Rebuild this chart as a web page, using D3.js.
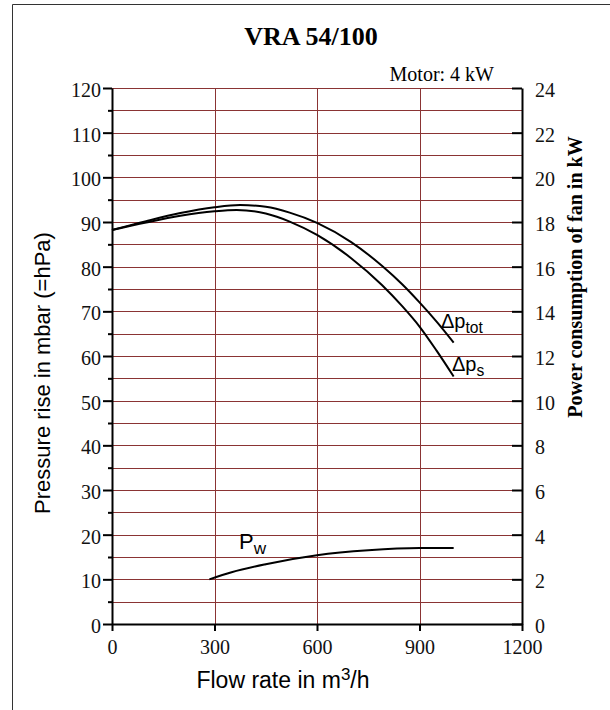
<!DOCTYPE html>
<html><head><meta charset="utf-8">
<script src="https://cdn.jsdelivr.net/npm/d3@7"></script>
<style>body{margin:0;background:#fff}svg{display:block}</style>
</head><body><svg id="c" width="610" height="710"></svg>
<script>
// ---- data ----
const flowTicks = [0, 300, 600, 900, 1200];
const pressureTicks = [0, 10, 20, 30, 40, 50, 60, 70, 80, 90, 100, 110, 120];
const pressureMinor = [5, 15, 25, 35, 45, 55, 65, 75, 85, 95, 105, 115];
const powerTicks = [0, 2, 4, 6, 8, 10, 12, 14, 16, 18, 20, 22, 24];
const gridPressure = [5, 10, 15, 20, 25, 30, 35, 40, 45, 50, 55, 60, 65, 70, 75, 80, 85, 90, 95, 100, 105, 110, 115, 120];
const gridFlow = [300, 600, 900];

const dpTotFlow   = [0, 100, 200, 300, 375, 450, 520, 600, 700, 790, 850, 900, 950, 1000];
const dpTotValues = [88.2, 90.2, 92.0, 93.3, 93.8, 93.4, 92.1, 89.8, 85.5, 80.2, 76.0, 72.0, 67.7, 63.0];
const dpSFlow     = [0, 100, 200, 300, 365, 450, 520, 600, 700, 790, 850, 900, 950, 1000];
const dpSValues   = [88.2, 89.9, 91.4, 92.4, 92.7, 91.9, 90.1, 87.1, 81.9, 75.9, 71.1, 66.6, 61.2, 55.4];
const pwFlow      = [285, 350, 450, 600, 750, 900, 1000];
const pwValues    = [2.0, 2.32, 2.68, 3.08, 3.3, 3.4, 3.4];

// ---- layout ----
const svg = d3.select('#c');
const L = 112, R = 522, T = 88, B = 624;
const x = d3.scaleLinear().domain([0, 1200]).range([L, R]);
const y = d3.scaleLinear().domain([0, 120]).range([B, T]);
const y2 = d3.scaleLinear().domain([0, 24]).range([B, T]);
const serif = "'Liberation Serif','Times New Roman',serif";
const sans = "'Liberation Sans',Arial,sans-serif";
const gridCol = '#8a3434';

svg.append('rect').attr('width', 610).attr('height', 710).attr('fill', '#fff');
// frame
svg.append('path').attr('d', 'M12.5,715 V4.5 H615').attr('fill', 'none').attr('stroke', '#333').attr('stroke-width', 1);

// grid
svg.append('g').selectAll('line').data(gridPressure).join('line')
  .attr('x1', L).attr('x2', R)
  .attr('y1', d => Math.round(y(d)) + 0.5).attr('y2', d => Math.round(y(d)) + 0.5)
  .attr('stroke', gridCol).attr('stroke-width', 1);
svg.append('g').selectAll('line').data(gridFlow).join('line')
  .attr('y1', T).attr('y2', B)
  .attr('x1', d => Math.round(x(d)) + 0.5).attr('x2', d => Math.round(x(d)) + 0.5)
  .attr('stroke', gridCol).attr('stroke-width', 1);

// curves
const line = (xs, ys, sc) => d3.line().x((d, i) => x(xs[i])).y(d => sc(d)).curve(d3.curveMonotoneX)(ys);
svg.append('path').attr('d', line(dpTotFlow, dpTotValues, y)).attr('fill', 'none').attr('stroke', '#000').attr('stroke-width', 2);
svg.append('path').attr('d', line(dpSFlow, dpSValues, y)).attr('fill', 'none').attr('stroke', '#000').attr('stroke-width', 2);
svg.append('path').attr('d', line(pwFlow, pwValues, y2)).attr('fill', 'none').attr('stroke', '#000').attr('stroke-width', 2);

// axes
function styleAxis(g, size) {
  g.select('.domain').attr('stroke', '#000').attr('stroke-width', 2);
  g.selectAll('.tick line').attr('stroke', '#000').attr('stroke-width', 2);
  g.selectAll('.tick text').attr('font-family', serif).attr('font-size', size).attr('fill', '#111');
}
const gl = svg.append('g').attr('transform', `translate(${L},0)`)
  .call(d3.axisLeft(y).tickValues(pressureTicks).tickSize(9).tickSizeOuter(0).tickPadding(2).tickFormat(d3.format('d')));
styleAxis(gl, 20);
gl.selectAll('.tick text').attr('dy', '0.42em');
svg.append('g').attr('transform', `translate(${L},0)`)
  .call(d3.axisLeft(y).tickValues(pressureMinor).tickSize(4).tickSizeOuter(0).tickFormat(''))
  .call(g => { g.select('.domain').remove(); g.selectAll('.tick line').attr('stroke', '#000').attr('stroke-width', 2); });

const gr = svg.append('g').attr('transform', `translate(${R},0)`)
  .call(d3.axisRight(y2).tickValues(powerTicks).tickSize(-10).tickSizeOuter(0).tickPadding(13).tickFormat(d3.format('d')));
styleAxis(gr, 20);
gr.selectAll('.tick text').attr('dy', '0.42em');

const gb = svg.append('g').attr('transform', `translate(0,${B})`)
  .call(d3.axisBottom(x).tickValues(flowTicks).tickSize(7).tickSizeOuter(0).tickPadding(9).tickFormat(d3.format('d')));
styleAxis(gb, 20);

// titles
svg.append('text').attr('x', 311).attr('y', 45).attr('text-anchor', 'middle')
  .attr('font-family', serif).attr('font-weight', 'bold').attr('font-size', 26).text('VRA 54/100');
svg.append('text').attr('x', 494).attr('y', 81).attr('text-anchor', 'end')
  .attr('font-family', serif).attr('font-size', 20).text('Motor: 4 kW');

svg.append('text').attr('transform', 'translate(50,373) rotate(-90)').attr('text-anchor', 'middle')
  .attr('font-family', sans).attr('font-size', 22).text('Pressure rise in mbar (=hPa)');
svg.append('text').attr('transform', 'translate(582,277) rotate(-90)').attr('text-anchor', 'middle')
  .attr('font-family', serif).attr('font-weight', 'bold').attr('font-size', 20).text('Power consumption of fan in kW');

const xt = svg.append('text').attr('x', 283).attr('y', 688).attr('text-anchor', 'middle')
  .attr('font-family', sans).attr('font-size', 23);
xt.append('tspan').text('Flow rate in m');
xt.append('tspan').attr('font-size', 17).attr('dy', -8).text('3');
xt.append('tspan').attr('dy', 8).text('/h');

// curve labels
const lab = (xx, yy, main, sub, size) => {
  const t = svg.append('text').attr('x', xx).attr('y', yy).attr('font-family', sans).attr('font-size', size);
  t.append('tspan').text(main);
  t.append('tspan').attr('font-size', size * 0.78).attr('dy', 5).text(sub);
};
lab(441, 328, 'Δp', 'tot', 20);
lab(452, 371, 'Δp', 's', 20);
lab(239, 549, 'P', 'w', 22);
</script></body></html>
